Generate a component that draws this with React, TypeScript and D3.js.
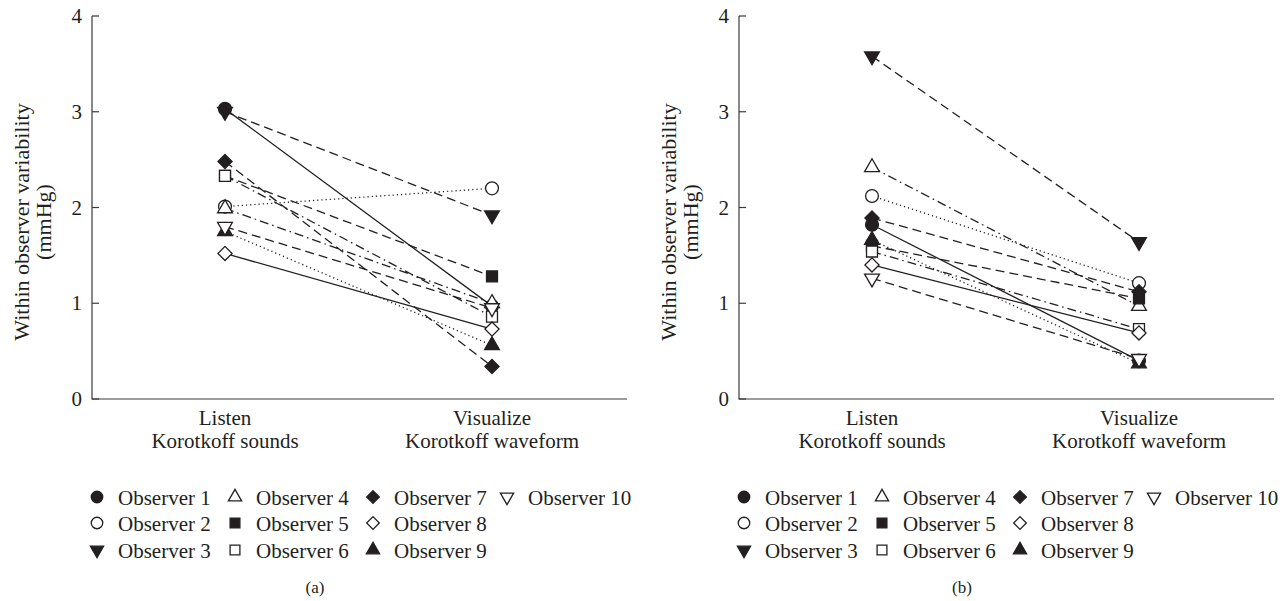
import React from 'react';
import * as d3 from 'd3';

// categories on the x axis
const conditions = ['Listen', 'Visualize'];
const conditionSub = ['Korotkoff sounds', 'Korotkoff waveform'];

const observers = ['Observer 1', 'Observer 2', 'Observer 3', 'Observer 4', 'Observer 5',
    'Observer 6', 'Observer 7', 'Observer 8', 'Observer 9', 'Observer 10'];

// panel (a) values: [Listen, Visualize]
const listenA = [3.03, 2.01, 3.0, 1.99, 2.33, 2.33, 2.48, 1.52, 1.75, 1.8];
const visualizeA = [0.97, 2.2, 1.92, 1.0, 1.28, 0.86, 0.34, 0.73, 0.56, 0.95];

// panel (b) values
const listenB = [1.82, 2.12, 3.58, 2.42, 1.6, 1.54, 1.89, 1.4, 1.66, 1.26];
const visualizeB = [0.4, 1.21, 1.64, 0.97, 1.05, 0.73, 1.12, 0.69, 0.37, 0.42];

const yTicks = [0, 1, 2, 3, 4];

// marker shape + fill per observer, line style per observer
const shapes = ['circle', 'circle', 'triDown', 'triUp', 'square', 'square', 'diamond', 'diamond', 'triUp', 'triDown'];
const filled = [true, false, true, false, true, false, true, false, true, false];
const dashes = ['solid', 'dotted', 'dashed', 'dashdot', 'dashed', 'dashdot', 'dashed', 'solid', 'dotted', 'dashed'];

const INK = '#231f20';
const FONT = '"Liberation Serif", "Times New Roman", serif';

const dashArray = (s) => {
    if (s === 'dotted') return '1.2,3';
    if (s === 'dashed') return '9,5';
    if (s === 'dashdot') return '9,4,1.5,4';
    return null;
};

const markerPath = (shape, scale = 1) => {
    if (shape === 'circle') return d3.symbol(d3.symbolCircle, 130 * scale)();
    if (shape === 'square') return d3.symbol(d3.symbolSquare, 120 * scale)();
    if (shape === 'diamond') return d3.symbol(d3.symbolSquare, 100 * scale)();
    return d3.symbol(d3.symbolTriangle, 95 * scale)();
};

const markerRotate = (shape) => (shape === 'diamond' ? 45 : shape === 'triDown' ? 180 : 0);

const Marker = ({ i, x, y, scale = 1 }) => (
    <path
        d={markerPath(shapes[i], scale)}
        transform={`translate(${x},${y}) rotate(${markerRotate(shapes[i])})`}
        fill={filled[i] ? INK : '#fff'}
        stroke={INK}
        strokeWidth={1.3}
    />
);

const Panel = ({ offset, listen, visualize, label }) => {
    const axisX = 92 + offset;
    const xEnd = 627 + offset;
    const y = d3.scaleLinear().domain([0, 4]).range([399, 16]);
    const x = d3.scalePoint().domain(conditions).range([axisX + 133, axisX + 400]);
    const line = d3.line().x((d) => x(d[0])).y((d) => y(d[1]));

    const legendCols = [97, 235, 373, 507].map((v) => v + offset);
    const legendRows = [497, 523, 550];

    return (
        <g>
            {/* axes */}
            <path d={`M${axisX},${y(4)}V${y(0)}H${xEnd}`} fill="none" stroke="#3a3a3a" strokeWidth={1.2} />
            {yTicks.map((t) => (
                <g key={t}>
                    <line x1={axisX} x2={axisX + 7} y1={y(t)} y2={y(t)} stroke="#3a3a3a" strokeWidth={1.2} />
                    <text x={axisX - 10} y={y(t) + 7} textAnchor="end" fontSize={21}>{t}</text>
                </g>
            ))}
            {/* y title, two lines */}
            <g transform={`translate(${offset},222) rotate(-90)`}>
                <text x={0} y={29} textAnchor="middle" fontSize={22}>Within observer variability</text>
                <text x={0} y={51} textAnchor="middle" fontSize={22}>(mmHg)</text>
            </g>
            {conditions.map((c, k) => (
                <g key={c}>
                    <text x={x(c)} y={425} textAnchor="middle" fontSize={21}>{c}</text>
                    <text x={x(c)} y={448} textAnchor="middle" fontSize={21}>{conditionSub[k]}</text>
                </g>
            ))}

            {/* observer lines */}
            {observers.map((o, i) => (
                <path
                    key={o}
                    d={line([[conditions[0], listen[i]], [conditions[1], visualize[i]]])}
                    fill="none"
                    stroke={INK}
                    strokeWidth={1.3}
                    strokeDasharray={dashArray(dashes[i])}
                />
            ))}
            {/* markers */}
            {observers.map((o, i) => (
                <g key={o}>
                    <Marker i={i} x={x(conditions[0])} y={y(listen[i])} />
                    <Marker i={i} x={x(conditions[1])} y={y(visualize[i])} />
                </g>
            ))}

            {/* legend */}
            {observers.map((o, i) => {
                const col = Math.floor(i / 3);
                const row = i % 3;
                return (
                    <g key={o}>
                        <Marker i={i} x={legendCols[col]} y={legendRows[row]} scale={0.8} />
                        <text x={legendCols[col] + 21} y={legendRows[row] + 8} fontSize={21}>{o}</text>
                    </g>
                );
            })}
            <text x={315 + offset} y={593} textAnchor="middle" fontSize={17}>{label}</text>
        </g>
    );
};

export default function App() {
    return (
        <svg
            width={1288}
            height={601}
            style={{ position: 'absolute', left: 0, top: 0, background: '#fff' }}
            fontFamily={FONT}
            fill={INK}
        >
            <rect width={1288} height={601} fill="#fff" />
            <Panel offset={0} listen={listenA} visualize={visualizeA} label="(a)" />
            <Panel offset={647} listen={listenB} visualize={visualizeB} label="(b)" />
        </svg>
    );
}
